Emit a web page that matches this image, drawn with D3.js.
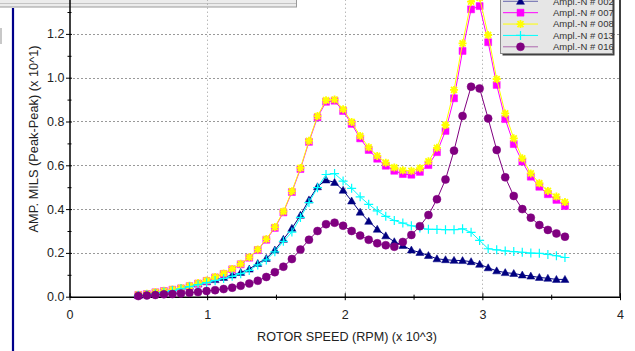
<!DOCTYPE html>
<html>
<head>
<meta charset="utf-8">
<script src="https://cdn.jsdelivr.net/npm/d3@7"></script>
<style>
  body { margin: 0; background: #fff; }
  svg { display: block; font-family: "Liberation Sans", Arial, sans-serif; }
</style>
</head>
<body>
<div id="graph"></div>
<script>
// rotor speed, x 10^3 rpm
const speed = [0.500, 0.562, 0.624, 0.686, 0.748, 0.810, 0.872, 0.934, 0.996, 1.058,
  1.120, 1.182, 1.244, 1.306, 1.368, 1.430, 1.492, 1.554, 1.616, 1.678,
  1.740, 1.802, 1.864, 1.926, 1.988, 2.050, 2.112, 2.174, 2.236, 2.298,
  2.360, 2.422, 2.484, 2.546, 2.608, 2.670, 2.732, 2.794, 2.856, 2.918,
  2.980, 3.042, 3.104, 3.166, 3.228, 3.290, 3.352, 3.414, 3.476, 3.538, 3.600]

const ampl002 = [0.006, 0.010, 0.015, 0.022, 0.030, 0.038, 0.048, 0.058, 0.068, 0.078,
  0.088, 0.099, 0.111, 0.126, 0.152, 0.175, 0.213, 0.262, 0.312, 0.372,
  0.442, 0.502, 0.533, 0.522, 0.486, 0.437, 0.386, 0.344, 0.308, 0.278,
  0.251, 0.234, 0.213, 0.202, 0.188, 0.173, 0.169, 0.166, 0.165, 0.160,
  0.148, 0.132, 0.118, 0.110, 0.106, 0.099, 0.094, 0.088, 0.084, 0.079, 0.079]

const ampl007 = [0.008, 0.012, 0.020, 0.026, 0.032, 0.038, 0.048, 0.060, 0.072, 0.088,
  0.104, 0.125, 0.148, 0.178, 0.213, 0.260, 0.314, 0.385, 0.478, 0.583,
  0.707, 0.819, 0.890, 0.895, 0.848, 0.789, 0.723, 0.670, 0.630, 0.598,
  0.575, 0.560, 0.557, 0.570, 0.601, 0.660, 0.757, 0.906, 1.122, 1.312,
  1.327, 1.162, 0.967, 0.811, 0.697, 0.617, 0.548, 0.502, 0.468, 0.442, 0.414]

const ampl008 = [0.009, 0.013, 0.021, 0.027, 0.033, 0.040, 0.050, 0.062, 0.074, 0.090,
  0.106, 0.127, 0.150, 0.180, 0.216, 0.263, 0.318, 0.389, 0.482, 0.588,
  0.712, 0.825, 0.897, 0.900, 0.856, 0.798, 0.734, 0.682, 0.643, 0.612,
  0.590, 0.577, 0.575, 0.587, 0.618, 0.680, 0.784, 0.944, 1.157, 1.347,
  1.365, 1.195, 0.994, 0.837, 0.723, 0.632, 0.563, 0.518, 0.483, 0.457, 0.432]

const ampl013 = [0.005, 0.009, 0.014, 0.021, 0.028, 0.036, 0.046, 0.055, 0.064, 0.074,
  0.083, 0.093, 0.105, 0.120, 0.145, 0.168, 0.205, 0.253, 0.295, 0.362,
  0.430, 0.498, 0.558, 0.562, 0.528, 0.495, 0.456, 0.422, 0.392, 0.367,
  0.348, 0.336, 0.324, 0.314, 0.308, 0.307, 0.306, 0.306, 0.310, 0.294,
  0.257, 0.219, 0.214, 0.209, 0.206, 0.203, 0.199, 0.198, 0.193, 0.187, 0.179]

const ampl016 = [0.003, 0.006, 0.008, 0.011, 0.012, 0.015, 0.018, 0.021, 0.026, 0.030,
  0.035, 0.041, 0.050, 0.060, 0.073, 0.090, 0.112, 0.137, 0.172, 0.215,
  0.260, 0.300, 0.331, 0.338, 0.324, 0.300, 0.279, 0.260, 0.244, 0.235,
  0.228, 0.250, 0.282, 0.322, 0.373, 0.445, 0.535, 0.667, 0.825, 0.959,
  0.951, 0.814, 0.670, 0.545, 0.460, 0.400, 0.361, 0.327, 0.305, 0.289, 0.274]

const seriesNames = ["Ampl.-N # 002", "Ampl.-N # 007", "Ampl.-N # 008", "Ampl.-N # 013", "Ampl.-N # 016"]
const xTicks = [0, 1, 2, 3, 4]
const xMinor = [0.5, 1.5, 2.5, 3.5]
const yTicks = [0, 0.2, 0.4, 0.6, 0.8, 1.0, 1.2]
const yMinor = [0.1, 0.3, 0.5, 0.7, 0.9, 1.1, 1.3]

const width = 635
const height = 351

const series = [
  {name: seriesNames[0], values: ampl002, color: "#000080", marker: "triangle"},
  {name: seriesNames[1], values: ampl007, color: "#ff00ff", marker: "square"},
  {name: seriesNames[2], values: ampl008, color: "#ffff00", marker: "star"},
  {name: seriesNames[3], values: ampl013, color: "#00ffff", marker: "plus"},
  {name: seriesNames[4], values: ampl016, color: "#800080", marker: "circle"}
]

const xScale = d3.scaleLinear().domain([0, 4]).range([69.5, 620])
const yScale = d3.scaleLinear().domain([0, 1.4]).range([296.7, -9.9])

const svg = d3.select("#graph")
  .append("svg")
  .attr("width", width)
  .attr("height", height)

// window chrome around the plot
svg.append("rect").attr("x", -1).attr("y", -1).attr("width", 297.5).attr("height", 8)
  .attr("fill", "#ececec").attr("stroke", "#9a9a9a")
svg.append("line").attr("x1", 0).attr("x2", 296).attr("y1", 3.5).attr("y2", 3.5)
  .attr("stroke", "#c4c4c4")
svg.append("rect").attr("x", 0).attr("y", 28).attr("width", 2).attr("height", 16)
  .attr("fill", "#c8c8c8")
svg.append("line").attr("x1", 13).attr("x2", 13).attr("y1", 8).attr("y2", height)
  .attr("stroke", "#00008b").attr("stroke-width", 2.2)

// grid
const grid = svg.append("g")
grid.selectAll("line.h")
  .data(yTicks.slice(1))
  .join("line")
  .attr("class", "h")
  .attr("x1", xScale(0)).attr("x2", xScale(4))
  .attr("y1", d => Math.round(yScale(d)) + 0.5).attr("y2", d => Math.round(yScale(d)) + 0.5)
  .attr("stroke", "#333").attr("stroke-dasharray", "1,3")
grid.selectAll("line.v")
  .data(xTicks.slice(1, -1))
  .join("line")
  .attr("class", "v")
  .attr("x1", d => Math.round(xScale(d)) + 0.5).attr("x2", d => Math.round(xScale(d)) + 0.5)
  .attr("y1", yScale(0)).attr("y2", 0)
  .attr("stroke", "#999").attr("stroke-dasharray", "1,3")

// right frame
svg.append("line").attr("x1", xScale(4)).attr("x2", xScale(4)).attr("y1", 0).attr("y2", yScale(0))
  .attr("stroke", "#000").attr("stroke-width", 1.5)

// axes
const xAxis = svg.append("g")
  .attr("transform", `translate(0, ${yScale(0)})`)
  .call(d3.axisBottom(xScale).tickValues(xTicks).tickSize(0).tickSizeOuter(0).tickPadding(13).tickFormat(d3.format("d")))
xAxis.select(".domain").attr("stroke-width", 1.5)

const yAxis = svg.append("g")
  .attr("transform", `translate(${xScale(0)}, 0)`)
  .call(d3.axisLeft(yScale).tickValues(yTicks).tickSize(0).tickSizeOuter(0).tickPadding(5).tickFormat(d3.format(".1f")))
yAxis.select(".domain").attr("stroke-width", 1.5)

svg.selectAll(".tick text").attr("font-size", 12.5).attr("fill", "#222")
  .attr("font-family", "'Liberation Sans', Arial, sans-serif")

// tick marks crossing the axes
svg.append("g").attr("transform", `translate(${xScale(0) + 2.5}, 0)`)
  .call(d3.axisLeft(yScale).tickValues(yTicks).tickSize(6).tickFormat(""))
  .call(g => g.select(".domain").remove())
svg.append("g").attr("transform", `translate(${xScale(0) + 2}, 0)`)
  .call(d3.axisLeft(yScale).tickValues(yMinor).tickSize(4).tickFormat(""))
  .call(g => g.select(".domain").remove())
svg.append("g").attr("transform", `translate(0, ${yScale(0) - 3.5})`)
  .call(d3.axisBottom(xScale).tickValues(xTicks).tickSize(7).tickFormat(""))
  .call(g => g.select(".domain").remove())
svg.append("g").attr("transform", `translate(0, ${yScale(0) - 2})`)
  .call(d3.axisBottom(xScale).tickValues(xMinor).tickSize(5).tickFormat(""))
  .call(g => g.select(".domain").remove())

// axis titles
svg.append("text")
  .attr("x", 347)
  .attr("y", 341)
  .attr("text-anchor", "middle")
  .attr("font-size", 12.6)
  .attr("fill", "#222")
  .text("ROTOR SPEED (RPM) (x 10^3)")

svg.append("text")
  .attr("transform", "translate(38, 139) rotate(-90)")
  .attr("text-anchor", "middle")
  .attr("font-size", 12.8)
  .attr("fill", "#222")
  .text("AMP. MILS (Peak-Peak) (x 10^1)")

// markers
const markerPath = {
  triangle: "M0,-4L4,3H-4Z",
  square: "M-3.5,-3.5H3.5V3.5H-3.5Z",
  star: "M-4,0H4M0,-4V4M-3,-3L3,3M-3,3L3,-3",
  plus: "M-4.5,0H4.5M0,-4.5V4.5",
  circle: "M4,0A4,4 0 1,1 -4,0A4,4 0 1,1 4,0Z"
}
const drawMarker = (sel, s) => {
  const filled = s.marker === "triangle" || s.marker === "square" || s.marker === "circle"
  sel.attr("d", markerPath[s.marker])
    .attr("fill", filled ? s.color : "none")
    .attr("stroke", s.color)
    .attr("stroke-width", s.marker === "star" ? 1.8 : (s.marker === "plus" ? 1.2 : 0.5))
}

const line = d3.line()
  .x((d, i) => xScale(speed[i]))
  .y(d => yScale(d))

const plot = svg.append("g")
series.forEach(s => {
  const g = plot.append("g")
  g.append("path")
    .datum(s.values)
    .attr("fill", "none")
    .attr("stroke", s.color)
    .attr("stroke-width", 1)
    .attr("d", line)
  g.selectAll("path.m")
    .data(s.values)
    .join("path")
    .attr("class", "m")
    .attr("transform", (d, i) => `translate(${xScale(speed[i])}, ${yScale(d)})`)
    .call(drawMarker, s)
})

// legend
const legend = svg.append("g")
legend.append("rect").attr("x", 502.5).attr("y", -10).attr("width", 112).attr("height", 65.5)
  .attr("fill", "#404040")
legend.append("rect").attr("x", 500.5).attr("y", -12).attr("width", 112).attr("height", 65.5)
  .attr("fill", "#e6e6e6").attr("stroke", "#8c8c8c")

const rowY = d3.scaleLinear().domain([0, 4]).range([1.3, 46.8])
const rows = legend.selectAll("g.row")
  .data(series)
  .join("g")
  .attr("class", "row")
  .attr("transform", (d, i) => `translate(0, ${rowY(i)})`)
rows.append("line").attr("x1", 503).attr("x2", 538)
  .attr("stroke", d => d.color).attr("stroke-width", 1)
  .attr("stroke-opacity", d => d.marker === "triangle" || d.marker === "circle" ? 0.55 : 1)
rows.append("path").attr("transform", "translate(520.5, 0)")
  .each(function (d) { d3.select(this).call(drawMarker, d) })
rows.append("text")
  .attr("x", 553)
  .attr("dy", "0.35em")
  .attr("font-size", 9.5)
  .attr("fill", "#333")
  .text(d => d.name)
</script>
</body>
</html>
